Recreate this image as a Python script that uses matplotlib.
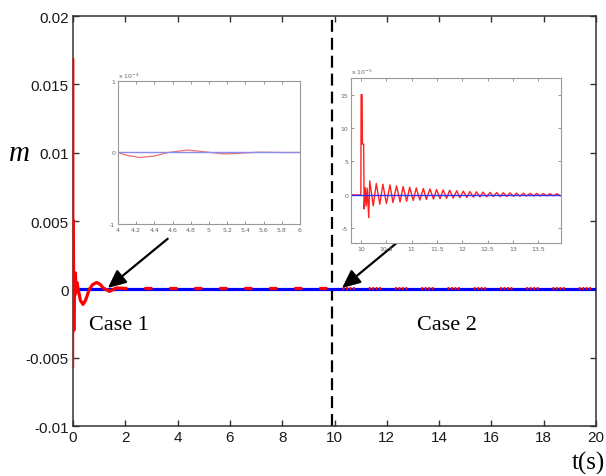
import matplotlib
matplotlib.use("Agg")
import matplotlib.pyplot as plt

# main trace (case 1 transient)
spike_t = [0.0, 0.0, 0.0]
spike_y = [0.0, 0.0169, -0.0057]
main_t = [0.01, 0.03, 0.05, 0.07, 0.09, 0.12, 0.15, 0.2, 0.28, 0.38, 0.48,
          0.62, 0.75, 0.9, 1.05, 1.15, 1.4, 1.65, 1.9]
main_y = [0.0050, -0.0030, 0.0011, -0.0004, 0.0012, -0.0002, 0.0005, 0.0,
          -0.0008, -0.0011, -0.0008, 0.0, 0.00035, 0.0005, 0.00035, 0.0001,
          -0.00015, 0.0001, 0.00008]
resid1_t = [1.9, 9.9]
resid1_y = [0.00008, 0.00008]
resid2_t = [10.3, 20.0]
resid2_y = [0.00008, 0.00008]
ref_t = [0, 20]
ref_y = [0, 0]
switch_t = 9.9

x_ticks = [0, 2, 4, 6, 8, 10, 12, 14, 16, 18, 20]
y_ticks = [-0.01, -0.005, 0, 0.005, 0.01, 0.015, 0.02]

# inset 1 (x 1e-4)
in1_t = [4.0, 4.1, 4.24, 4.4, 4.55, 4.77, 4.95, 5.16, 5.35, 5.55, 5.8, 6.0]
in1_y = [0.0, -0.04, -0.07, -0.05, 0.0, 0.035, 0.01, -0.02, -0.01, 0.005, 0.0, 0.0]
in1_xticks = [4, 4.2, 4.4, 4.6, 4.8, 5, 5.2, 5.4, 5.6, 5.8, 6]
in1_xlabels = ["4", "4.2", "4.4", "4.6", "4.8", "5", "5.2", "5.4", "5.6", "5.8", "6"]
in1_yticks = [-1, 0, 1]

# inset 2 (x 1e-5)
in2_start_t = [9.8, 9.995, 10.0, 10.02, 10.025, 10.05, 10.06, 10.08, 10.1, 10.12, 10.15]
in2_start_y = [0.0, 0.0, 15.0, 15.0, 7.6, 7.6, -2.1, 1.1, -1.65, 1.0, -3.4]
peak_t = [10.17, 10.30, 10.43, 10.57, 10.70, 10.83, 10.96, 11.09, 11.23, 11.36,
          11.49, 11.62, 11.75, 11.89, 12.02, 12.15, 12.28, 12.41, 12.55, 12.68,
          12.81, 12.94, 13.07, 13.21, 13.34, 13.47, 13.60, 13.73, 13.87]
peak_v = [2.1, 1.7, 1.6, 1.5, 1.35, 1.25, 1.15, 1.05, 0.95, 0.9, 0.8, 0.75, 0.7,
          0.62, 0.56, 0.5, 0.46, 0.42, 0.38, 0.35, 0.32, 0.3, 0.27, 0.25, 0.23,
          0.22, 0.2, 0.19, 0.18]
trough_t = [10.24, 10.37, 10.50, 10.63, 10.77, 10.90, 11.03, 11.16, 11.29, 11.43,
            11.56, 11.69, 11.82, 11.95, 12.09, 12.22, 12.35, 12.48, 12.61, 12.75,
            12.88, 13.01, 13.14, 13.27, 13.41, 13.54, 13.67, 13.80, 13.93]
trough_v = [-1.65, -1.4, -1.3, -1.15, -1.05, -0.95, -0.85, -0.78, -0.7, -0.63,
            -0.57, -0.52, -0.47, -0.43, -0.39, -0.35, -0.32, -0.29, -0.27, -0.25,
            -0.23, -0.21, -0.2, -0.18, -0.17, -0.16, -0.15, -0.14, -0.13]
in2_xticks = [10, 10.5, 11, 11.5, 12, 12.5, 13, 13.5]
in2_xlabels = ["10", "10.5", "11", "11.5", "12", "12.5", "13", "13.5"]
in2_yticks = [-5, 0, 5, 10, 15]

plt.rcParams["lines.scale_dashes"] = False
plt.rcParams["axes.unicode_minus"] = False
sans = ["Liberation Sans", "DejaVu Sans"]
serif = ["Liberation Serif", "DejaVu Serif"]

fig = plt.figure(figsize=(6.06, 4.77), dpi=100)
ax = fig.add_axes([0.1205, 0.1048, 0.8630, 0.8595])

ax.plot(ref_t, ref_y, color="#0000ff", lw=2.3, zorder=3)
ax.plot(resid1_t, resid1_y, color="#ff0000", lw=2.3, ls=(3, (5.8, 12.2)), zorder=4)
ax.plot(resid2_t, resid2_y, color="#ff0000", lw=2.0,
        ls=(0, (1.4, 1.1, 1.4, 1.1, 1.4, 1.1, 1.4, 10.0)), zorder=4)
ax.plot(spike_t, spike_y, color="#ff0000", lw=1.0, zorder=4, clip_on=False)
ax.plot(main_t, main_y, color="#ff0000", lw=2.3, zorder=4)
ax.axvline(switch_t, color="k", lw=1.6, ls=(0, (8.6, 4.3)), zorder=2)

ax.set_xlim(0, 20)
ax.set_ylim(-0.01, 0.02)
ax.set_xticks(x_ticks)
ax.set_yticks(y_ticks)
ax.set_xticklabels([str(v) for v in x_ticks], family=sans, fontsize=11, color="#1a1a1a")
ax.set_yticklabels(["%g" % v for v in y_ticks], family=sans, fontsize=11, color="#1a1a1a")
ax.tick_params(direction="in", length=4, width=1, top=True, right=True, pad=3, colors="#333333",
               labelcolor="#1a1a1a")
for s in ax.spines.values():
    s.set_color("#333333")
    s.set_linewidth(1.1)

ax.text(-0.103, 0.665, "m", transform=ax.transAxes, family=serif, style="italic",
        fontsize=21, ha="center", va="center")
ax.text(0.985, -0.088, "t(s)", transform=ax.transAxes, family=serif,
        fontsize=18, ha="center", va="center")
ax.text(1.75, -0.00255, "Case 1", family=serif, fontsize=16, ha="center", va="center")
ax.text(14.3, -0.00255, "Case 2", family=serif, fontsize=16, ha="center", va="center")

arrow = dict(arrowstyle="-|>,head_length=0.55,head_width=0.25", color="k", lw=1.6,
             mutation_scale=20, shrinkA=0, shrinkB=0)
ax.annotate("", xy=(1.33, 0.0001), xytext=(3.62, 0.0037), arrowprops=arrow, zorder=6)
ax.annotate("", xy=(10.29, 0.0001), xytext=(12.38, 0.0034), arrowprops=arrow, zorder=6)


def style_inset(a):
    a.tick_params(direction="in", length=2, width=0.6, top=True, right=True,
                  labelsize=4.5, colors="#888888", labelcolor="#666666", pad=2)
    for s in a.spines.values():
        s.set_color("#999999")
        s.set_linewidth(0.8)


# inset 1
a1 = fig.add_axes([0.1947, 0.5283, 0.3003, 0.2998])
a1.plot(in1_t, in1_y, color="#f07070", lw=0.9)
a1.plot([4, 6], [0, 0], color="#8c8cf0", lw=1.0)
a1.set_xlim(4, 6)
a1.set_ylim(-1, 1)
a1.set_xticks(in1_xticks)
a1.set_xticklabels(in1_xlabels)
a1.set_yticks(in1_yticks)
style_inset(a1)
a1.text(0.0, 1.01, r"x 10$^{-4}$", transform=a1.transAxes, fontsize=4.5, color="#666666",
        ha="left", va="bottom")

# inset 2
seg_t = []
seg_y = []
for pt, pv, tt, tv in zip(peak_t, peak_v, trough_t, trough_v):
    seg_t += [pt, tt]
    seg_y += [pv, tv]
a2 = fig.add_axes([0.5792, 0.4885, 0.3465, 0.3459])
a2.plot(in2_start_t + seg_t, in2_start_y + seg_y, color="#ff2020", lw=1.0)
a2.plot([9.8, 13.95], [0, 0], color="#3030ff", lw=1.0)
a2.set_xlim(9.8, 13.95)
a2.set_ylim(-7.2, 17.5)
a2.set_xticks(in2_xticks)
a2.set_xticklabels(in2_xlabels)
a2.set_yticks(in2_yticks)
style_inset(a2)
a2.text(0.0, 1.01, r"x 10$^{-5}$", transform=a2.transAxes, fontsize=4.5, color="#666666",
        ha="left", va="bottom")

fig.savefig("out.png", dpi=100)
